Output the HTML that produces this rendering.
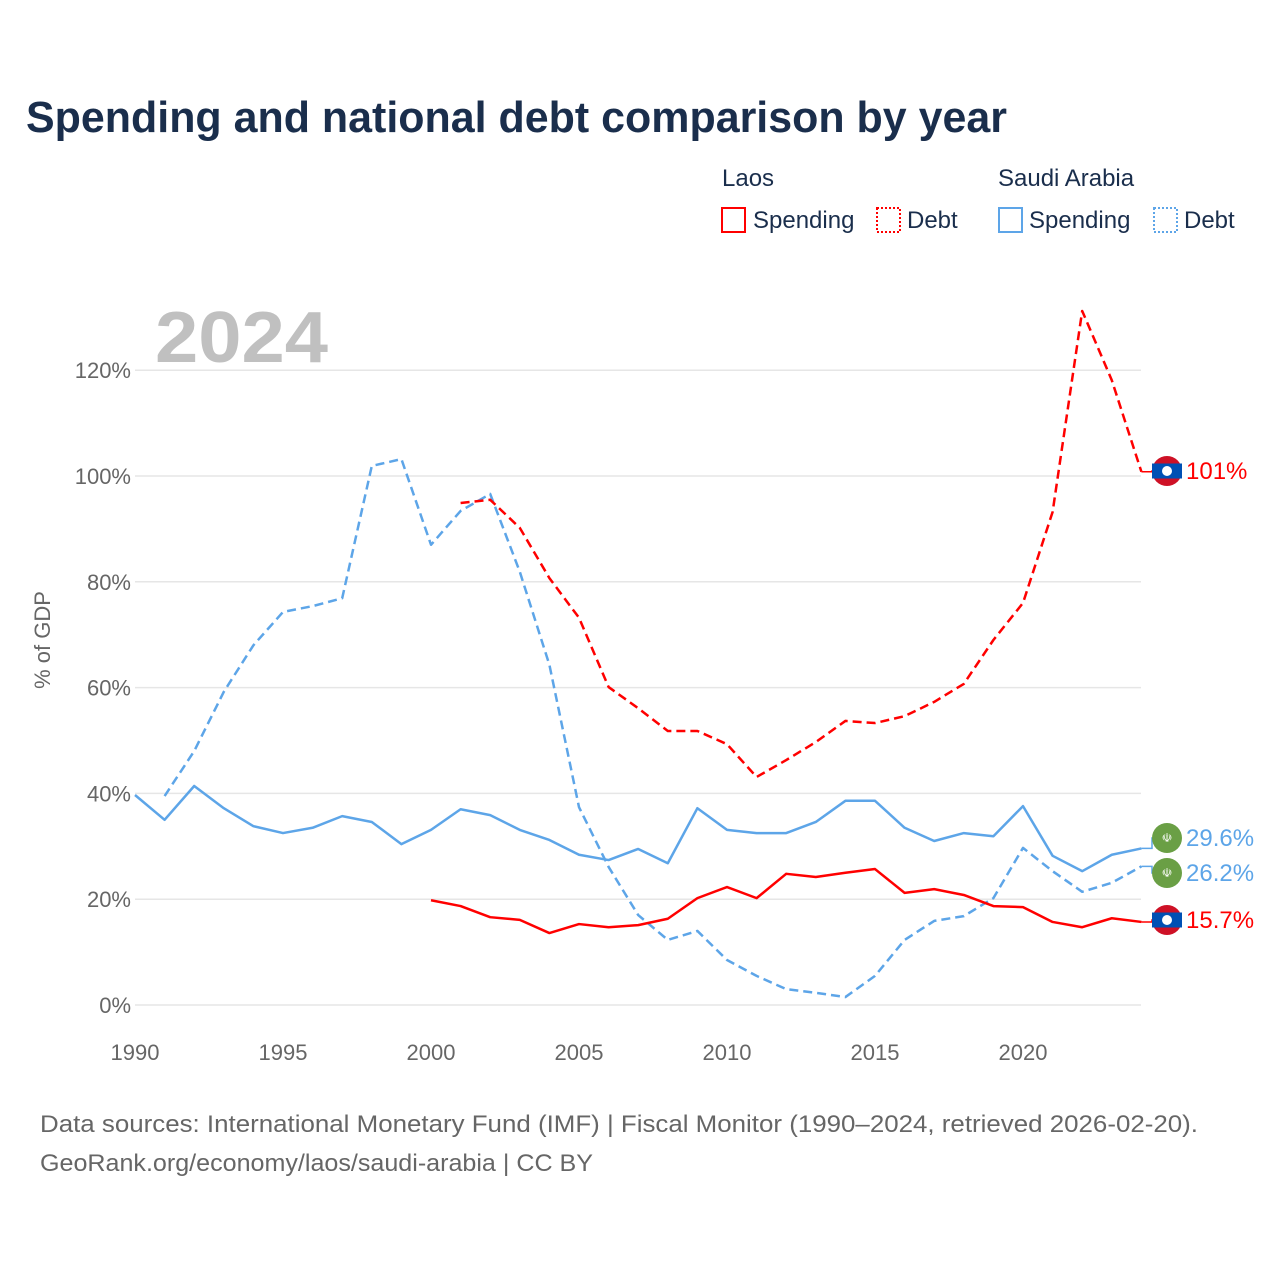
<!DOCTYPE html>
<html><head><meta charset="utf-8"><style>
body{margin:0;background:#fff;font-family:"Liberation Sans",sans-serif}
svg text{font-family:"Liberation Sans",sans-serif}
</style></head><body>
<svg width="1280" height="1280">
<text x="26" y="132" font-size="44" font-weight="bold" fill="#1a2e4c" textLength="981" lengthAdjust="spacingAndGlyphs">Spending and national debt comparison by year</text>
<g>
<text x="722" y="186" font-size="24" fill="#1a2e4c">Laos</text>
<text x="998" y="186" font-size="24" fill="#1a2e4c">Saudi Arabia</text>
<g><rect x="722" y="208" width="23" height="24" fill="none" stroke="#f00" stroke-width="2"/><text x="753" y="228" font-size="24" fill="#1a2e4c">Spending</text></g>
<g><rect x="877" y="208" width="23" height="24" fill="none" stroke="#f00" stroke-width="2" stroke-dasharray="2,2"/><text x="907" y="228" font-size="24" fill="#1a2e4c">Debt</text></g>
<g><rect x="999" y="208" width="23" height="24" fill="none" stroke="#5da5e8" stroke-width="2"/><text x="1029" y="228" font-size="24" fill="#1a2e4c">Spending</text></g>
<g><rect x="1154" y="208" width="23" height="24" fill="none" stroke="#5da5e8" stroke-width="2" stroke-dasharray="2,2"/><text x="1184" y="228" font-size="24" fill="#1a2e4c">Debt</text></g>
</g>
<text x="155" y="362" font-size="72" font-weight="bold" fill="#c0c0c0" textLength="173" lengthAdjust="spacingAndGlyphs">2024</text>
<text transform="translate(50,640) rotate(-90)" text-anchor="middle" font-size="22" fill="#666">% of GDP</text>
<g id="grid"></g><g id="lines"></g><g id="ends"></g>
<text x="40" y="1132" font-size="24" fill="#666" textLength="1158" lengthAdjust="spacingAndGlyphs">Data sources: International Monetary Fund (IMF) | Fiscal Monitor (1990–2024, retrieved 2026-02-20).</text>
<text x="40" y="1171" font-size="24" fill="#666" textLength="553" lengthAdjust="spacingAndGlyphs">GeoRank.org/economy/laos/saudi-arabia | CC BY</text>
</svg>
<script>
const yTicks=[0,20,40,60,80,100,120];
const xTicks=[1990,1995,2000,2005,2010,2015,2020];
const saudiSpendStart=1990;
const saudiSpend=[39.7,35,41.4,37.2,33.8,32.5,33.5,35.7,34.6,30.4,33.1,37,35.9,33.1,31.2,28.4,27.4,29.5,26.8,37.2,33.1,32.5,32.5,34.6,38.6,38.6,33.5,31,32.5,31.9,37.6,28.2,25.3,28.4,29.6];
const saudiDebtStart=1991;
const saudiDebt=[39.5,48,59.2,68,74.3,75.4,76.9,101.9,103.2,87,93.4,96.6,81.9,64.3,37.4,26.1,17,12.3,14,8.5,5.5,3,2.3,1.5,5.5,12.3,15.9,16.8,20.2,29.7,25.3,21.4,23.1,26.2];
const laosSpendStart=2000;
const laosSpend=[19.8,18.7,16.6,16.1,13.6,15.3,14.7,15.1,16.3,20.2,22.3,20.2,24.8,24.2,25,25.7,21.2,21.9,20.8,18.7,18.5,15.7,14.7,16.4,15.7];
const laosDebtStart=2001;
const laosDebt=[94.9,95.5,90.2,80.7,73.2,60.1,56.1,51.8,51.8,49.3,43.1,46.3,49.7,53.7,53.3,54.6,57.3,60.7,69,76,93.2,131.2,118.1,100.8];
const endLabels=["101%","29.6%","26.2%","15.7%"];
const NS="http://www.w3.org/2000/svg";
const X=y=>135+(y-1990)*29.6, Y=v=>1005-v*5.29;
function mk(t,a,p){const e=document.createElementNS(NS,t);for(const k in a)e.setAttribute(k,a[k]);p.appendChild(e);return e;}
const g=document.getElementById('grid');
yTicks.forEach(v=>{const l=mk('line',{x1:135,x2:1141,y1:Y(v),y2:Y(v),stroke:'#e6e6e6','stroke-width':1.5},g);


const t=mk('text',{x:131,y:Y(v)+8,'text-anchor':'end','font-size':22,fill:'#666'},g);t.textContent=v+'%';

});
xTicks.forEach(v=>{const t=mk('text',{x:X(v),y:1060,'text-anchor':'middle','font-size':22,fill:'#666'},g);t.textContent=v;

});
const L=document.getElementById('lines');
function series(arr,start,col,dash,name){const d=arr.map((v,i)=>(i?'L':'M')+X(start+i)+','+Y(v)).join('');
const p=mk('path',{d:d,fill:'none',stroke:col,'stroke-width':2.5,'stroke-dasharray':dash,'stroke-linejoin':'round'},L);

}
series(saudiSpend,saudiSpendStart,'#5da5e8','none','saudi-spending-line');
series(saudiDebt,saudiDebtStart,'#5da5e8','9,5','saudi-debt-line');
series(laosSpend,laosSpendStart,'#f00','none','laos-spending-line');
series(laosDebt,laosDebtStart,'#f00','9,5','laos-debt-line');
const E=document.getElementById('ends');
const ends=[[laosDebt[laosDebt.length-1],471,'#f00','laos',endLabels[0]],[saudiSpend[saudiSpend.length-1],838,'#5da5e8','saudi',endLabels[1]],[saudiDebt[saudiDebt.length-1],873,'#5da5e8','saudi',endLabels[2]],[laosSpend[laosSpend.length-1],920,'#f00','laos',endLabels[3]]];
ends.forEach(([v,ly,col,c,lab])=>{
mk('path',{d:`M${X(2024)},${Y(v)}H1152V${ly}H1155`,fill:'none',stroke:col,'stroke-width':1.5},E);
const fg=mk('g',{},E);


if(c==='laos'){mk('circle',{cx:1167,cy:ly,r:15,fill:'#ce1126'},fg);mk('rect',{x:1152,y:ly-7.5,width:30,height:15,fill:'#0050b4'},fg);mk('circle',{cx:1167,cy:ly,r:5,fill:'#fff'},fg);}
else{mk('circle',{cx:1167,cy:ly,r:15,fill:'#6a9f45'},fg);const t=mk('text',{x:1167,y:ly+4,'text-anchor':'middle','font-size':12,fill:'#fff'},fg);t.textContent='☫';}
const t=mk('text',{x:1186,y:ly+8,'font-size':24,fill:col},E);t.textContent=lab;

});
</script>
</body></html>
